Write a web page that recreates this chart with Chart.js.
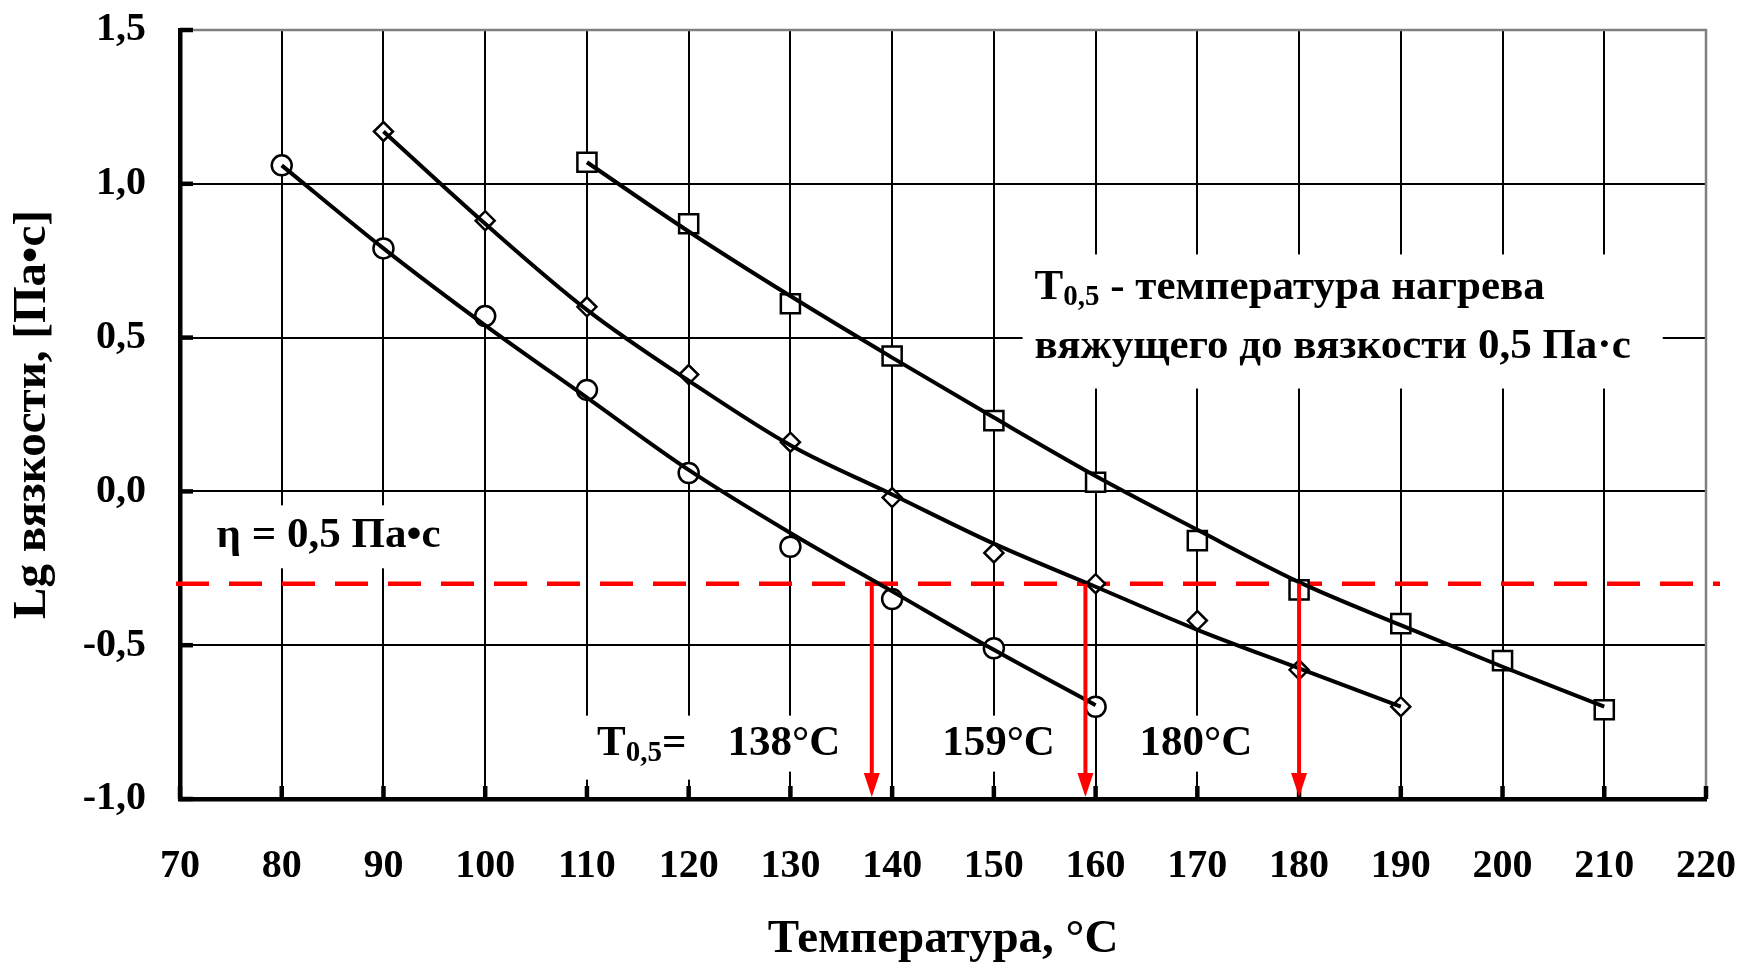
<!DOCTYPE html>
<html lang="ru">
<head>
<meta charset="utf-8">
<title>Lg вязкости – температура</title>
<script src="https://cdn.jsdelivr.net/npm/chart.js@4.4.1/dist/chart.umd.min.js"></script>
<style>
  html, body { margin: 0; padding: 0; background: #fff; }
  #wrap { width: 1744px; height: 963px; }
</style>
</head>
<body>
<div id="wrap"><canvas id="viscChart" width="1744" height="963"></canvas></div>
<script>
// Temperatures, °C
const tempsA = [80, 90, 100, 110, 120, 130, 140, 150, 160];
const tempsB = [90, 100, 110, 120, 130, 140, 150, 160, 170, 180, 190];
const tempsC = [110, 120, 130, 140, 150, 160, 170, 180, 190, 200, 210];

// Measured lg of viscosity, Pa·s
const lgA = [1.06, 0.79, 0.57, 0.33, 0.06, -0.18, -0.35, -0.51, -0.70];
const lgB = [1.17, 0.88, 0.60, 0.38, 0.16, -0.02, -0.20, -0.30, -0.42, -0.58, -0.70];
const lgC = [1.07, 0.87, 0.61, 0.44, 0.23, 0.03, -0.16, -0.32, -0.43, -0.55, -0.71];

// Trend curves at the same temperatures
const fitA = [1.06, 0.79, 0.54, 0.305, 0.07, -0.135, -0.325, -0.515, -0.695];
const fitB = [1.17, 0.87, 0.59, 0.36, 0.15, -0.01, -0.17, -0.31, -0.45, -0.575, -0.70];
const fitC = [1.07, 0.845, 0.635, 0.435, 0.24, 0.05, -0.125, -0.295, -0.435, -0.57, -0.70];

// lg(0.5 Pa·s) and the temperatures where each curve reaches it
const etaLg = -0.30;
const t05 = [138, 159, 180];

// Axis ticks
const xTickVals = [70, 80, 90, 100, 110, 120, 130, 140, 150, 160, 170, 180, 190, 200, 210, 220];
const yTickVals = [-1.0, -0.5, 0.0, 0.5, 1.0, 1.5];

const serif = '"Liberation Serif", "Times New Roman", serif';
const labelSize = 43;
// gap (°C) between each T0,5 label and its arrow
const labelGap = [3.1, 3.0, 4.6];

function pairs(xs, ys) {
  return xs.map((x, i) => ({ x: x, y: ys[i] }));
}

// "T" with a "0,5" subscript, returns the x after it
function drawT05(ctx, x, y) {
  ctx.font = `bold ${labelSize}px ${serif}`;
  ctx.fillText("T", x, y);
  x += ctx.measureText("T").width;
  ctx.font = `bold 29px ${serif}`;
  ctx.fillText("0,5", x, y + 10);
  x += ctx.measureText("0,5").width;
  ctx.font = `bold ${labelSize}px ${serif}`;
  return x;
}

function whiteBox(ctx, x1, y1, x2, y2) {
  ctx.fillStyle = "#fff";
  ctx.fillRect(x1, y1, x2 - x1, y2 - y1);
}

// Frame, inward ticks, label backgrounds and the 0.5 Pa·s level
const underlay = {
  id: "underlay",
  beforeDatasetsDraw(chart) {
    const { ctx, chartArea: a, scales: { x, y } } = chart;
    ctx.save();

    ctx.strokeStyle = "#808080";
    ctx.lineWidth = 2.5;
    ctx.beginPath();
    ctx.moveTo(a.left, a.top);
    ctx.lineTo(a.right, a.top);
    ctx.lineTo(a.right, a.bottom);
    ctx.stroke();

    ctx.strokeStyle = "#000";
    ctx.lineWidth = 4.5;
    xTickVals.forEach((v) => {
      const px = x.getPixelForValue(v);
      ctx.beginPath();
      ctx.moveTo(px, a.bottom);
      ctx.lineTo(px, a.bottom - 13);
      ctx.stroke();
    });
    yTickVals.forEach((v) => {
      const py = y.getPixelForValue(v);
      ctx.beginPath();
      ctx.moveTo(a.left, py);
      ctx.lineTo(a.left + 13, py);
      ctx.stroke();
    });

    // backgrounds under the text labels
    ctx.font = `bold ${labelSize}px ${serif}`;
    const etaX = x.getPixelForValue(73.6);
    const etaY = y.getPixelForValue(-0.146);
    whiteBox(ctx, etaX - 12, etaY - 31, etaX + ctx.measureText("η = 0,5 Па•с").width + 14, etaY + 32);

    const noteX = x.getPixelForValue(154.0);
    const noteY1 = y.getPixelForValue(0.663);
    const noteY2 = y.getPixelForValue(0.471);
    whiteBox(ctx, noteX - 12, noteY1 - 33, noteX + ctx.measureText("вяжущего до вязкости 0,5 Па·с").width + 32, noteY2 + 42);

    const rowY = y.getPixelForValue(-0.82);
    const tX = x.getPixelForValue(111.0);
    whiteBox(ctx, tX - 12, rowY - 28, tX + 96, rowY + 36);
    t05.forEach((t, i) => {
      const right = x.getPixelForValue(t - labelGap[i]);
      const w = ctx.measureText(`${t}°C`).width;
      whiteBox(ctx, right - w - 10, rowY - 28, right + 10, rowY + 28);
    });

    const ly = y.getPixelForValue(etaLg);
    ctx.strokeStyle = "#ff0000";
    ctx.lineWidth = 4.5;
    ctx.setLineDash([33, 20]);
    ctx.beginPath();
    ctx.moveTo(a.left - 4, ly);
    ctx.lineTo(a.right + 14, ly);
    ctx.stroke();
    ctx.restore();
  },

  // red arrows and annotation text
  afterDatasetsDraw(chart) {
    const { ctx, scales: { x, y } } = chart;
    ctx.save();

    const top = y.getPixelForValue(etaLg);
    const bottom = y.getPixelForValue(-1.0) - 2;
    ctx.strokeStyle = "#ff0000";
    ctx.fillStyle = "#ff0000";
    ctx.lineWidth = 4;
    t05.forEach((t) => {
      const px = x.getPixelForValue(t);
      ctx.beginPath();
      ctx.moveTo(px, top);
      ctx.lineTo(px, bottom - 20);
      ctx.stroke();
      ctx.beginPath();
      ctx.moveTo(px - 8, bottom - 24);
      ctx.lineTo(px + 8, bottom - 24);
      ctx.lineTo(px, bottom);
      ctx.closePath();
      ctx.fill();
    });

    ctx.fillStyle = "#000";
    ctx.textBaseline = "middle";
    ctx.textAlign = "left";
    ctx.font = `bold ${labelSize}px ${serif}`;
    ctx.fillText("η = 0,5 Па•с", x.getPixelForValue(73.6), y.getPixelForValue(-0.146));

    const noteX = x.getPixelForValue(154.0);
    const after = drawT05(ctx, noteX, y.getPixelForValue(0.663));
    ctx.fillText(" - температура нагрева", after, y.getPixelForValue(0.663));
    ctx.fillText("вяжущего до вязкости 0,5 Па·с", noteX, y.getPixelForValue(0.471));

    const rowY = y.getPixelForValue(-0.82);
    const afterT = drawT05(ctx, x.getPixelForValue(111.0), rowY);
    ctx.fillText("=", afterT, rowY);
    ctx.textAlign = "right";
    t05.forEach((t, i) => {
      ctx.fillText(`${t}°C`, x.getPixelForValue(t - labelGap[i]), rowY);
    });
    ctx.restore();
  }
};

function markerSet(xs, ys, style, radius) {
  return {
    data: pairs(xs, ys),
    showLine: false,
    pointStyle: style,
    pointRadius: radius,
    pointBackgroundColor: "#fff",
    pointBorderColor: "#000",
    pointBorderWidth: 2.5,
    order: 2
  };
}

function curveSet(xs, ys) {
  return {
    data: pairs(xs, ys),
    showLine: true,
    borderColor: "#000",
    borderWidth: 4,
    pointRadius: 0,
    cubicInterpolationMode: "monotone",
    order: 1
  };
}

const ctx = document.getElementById("viscChart").getContext("2d");
const viscChart = new Chart(ctx, {
  type: "scatter",
  data: {
    datasets: [
      markerSet(tempsA, lgA, "circle", 10),
      markerSet(tempsB, lgB, "rectRot", 9.5),
      markerSet(tempsC, lgC, "rect", 13.5),
      curveSet(tempsA, fitA),
      curveSet(tempsB, fitB),
      curveSet(tempsC, fitC)
    ]
  },
  options: {
    responsive: false,
    animation: false,
    devicePixelRatio: 1,
    layout: { padding: { top: 30, right: 38, bottom: 0, left: 0 } },
    plugins: {
      legend: { display: false },
      tooltip: { enabled: false }
    },
    scales: {
      x: {
        type: "linear",
        min: 70,
        max: 220,
        afterBuildTicks: (scale) => {
          scale.ticks = xTickVals.map((v) => ({ value: v }));
        },
        afterFit: (scale) => {
          scale.height = 164;
          scale.paddingLeft = 0;
          scale.paddingRight = 0;
        },
        grid: {
          color: (c) => (c.tick && c.tick.value === 220 ? "#808080" : "#000"),
          lineWidth: 2,
          drawTicks: false
        },
        border: { display: true, color: "#000", width: 4.5 },
        ticks: {
          color: "#000",
          padding: 44,
          maxRotation: 0,
          font: { family: serif, weight: "bold", size: 40 },
          callback: (v) => String(v)
        },
        title: {
          display: true,
          text: "Температура, °С",
          color: "#000",
          padding: { top: 0, bottom: 0 },
          font: { family: serif, weight: "bold", size: 47, lineHeight: 1.0 }
        }
      },
      y: {
        type: "linear",
        min: -1.0,
        max: 1.5,
        afterBuildTicks: (scale) => {
          scale.ticks = yTickVals.map((v) => ({ value: v }));
        },
        afterFit: (scale) => {
          scale.width = 180;
          scale.paddingTop = 0;
          scale.paddingBottom = 0;
        },
        grid: {
          color: (c) => (c.tick && c.tick.value === 1.5 ? "#808080" : "#000"),
          lineWidth: 2,
          drawTicks: false
        },
        border: { display: true, color: "#000", width: 4.5 },
        ticks: {
          color: "#000",
          padding: 34,
          font: { family: serif, weight: "bold", size: 40 },
          callback: (v) => v.toFixed(1).replace(".", ",")
        },
        title: {
          display: true,
          text: "Lg вязкости, [Па•с]",
          color: "#000",
          padding: { top: 5, bottom: 0 },
          font: { family: serif, weight: "bold", size: 47 }
        }
      }
    }
  },
  plugins: [underlay]
});
</script>
</body>
</html>
